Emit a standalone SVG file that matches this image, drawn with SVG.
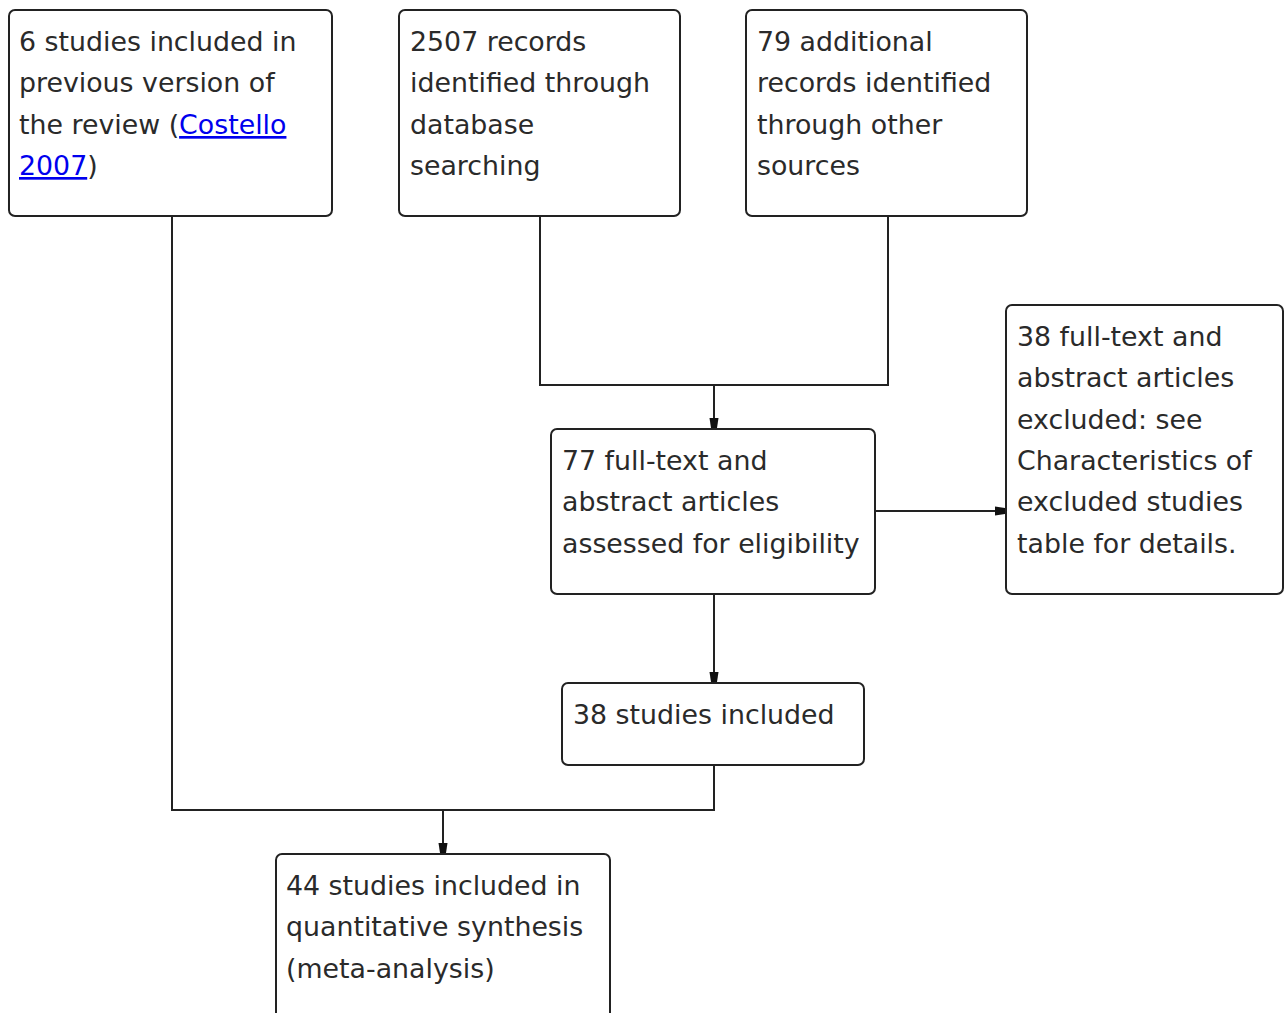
<svg xmlns="http://www.w3.org/2000/svg" width="1284" height="1013" viewBox="0 0 1284 1013">
<style>
.box{fill:#fff;stroke:#222;stroke-width:2}
.t{font-family:"DejaVu Sans",Verdana,sans-serif;font-size:26.8px;fill:#2a2a2a}
.lk{fill:#0000ee;text-decoration:underline}
.c{fill:none;stroke:#222;stroke-width:2}
</style>
<defs>
<marker id="ah" viewBox="0 0 10 10" refX="10" refY="5" markerWidth="10" markerHeight="10" markerUnits="userSpaceOnUse" orient="auto">
<path d="M0,0.5 L10,2 L10,8 L0,9.5 Z" fill="#111"/>
</marker>
</defs>
<rect width="1284" height="1013" fill="#fff"/>
<g id="connectors">
<polyline class="c" points="540,216 540,385 888,385 888,216"/>
<line class="c" x1="714" y1="385" x2="714" y2="428" marker-end="url(#ah)"/>
<line class="c" x1="875" y1="511" x2="1005" y2="511" marker-end="url(#ah)"/>
<line class="c" x1="714" y1="594" x2="714" y2="682" marker-end="url(#ah)"/>
<polyline class="c" points="172,216 172,810 714,810 714,765"/>
<line class="c" x1="443" y1="810" x2="443" y2="853" marker-end="url(#ah)"/>
</g>
<g id="n1">
<rect class="box" x="9" y="10" width="323" height="206" rx="6"/>
<text class="t" x="19" y="51">6 studies included in</text>
<text class="t" x="19" y="92">previous version of</text>
<text class="t" x="19" y="134">the review (<tspan class="lk">Costello</tspan></text>
<text class="t" x="19" y="175"><tspan class="lk">2007</tspan>)</text>
</g>
<g id="n2">
<rect class="box" x="399" y="10" width="281" height="206" rx="6"/>
<text class="t" x="410" y="51">2507 records</text>
<text class="t" x="410" y="92">identified through</text>
<text class="t" x="410" y="134">database</text>
<text class="t" x="410" y="175">searching</text>
</g>
<g id="n3">
<rect class="box" x="746" y="10" width="281" height="206" rx="6"/>
<text class="t" x="757" y="51">79 additional</text>
<text class="t" x="757" y="92">records identified</text>
<text class="t" x="757" y="134">through other</text>
<text class="t" x="757" y="175">sources</text>
</g>
<g id="n4">
<rect class="box" x="1006" y="305" width="277" height="289" rx="6"/>
<text class="t" x="1017" y="346">38 full-text and</text>
<text class="t" x="1017" y="387">abstract articles</text>
<text class="t" x="1017" y="429">excluded: see</text>
<text class="t" x="1017" y="470">Characteristics of</text>
<text class="t" x="1017" y="511">excluded studies</text>
<text class="t" x="1017" y="553">table for details.</text>
</g>
<g id="n5">
<rect class="box" x="551" y="429" width="324" height="165" rx="6"/>
<text class="t" x="562" y="470">77 full-text and</text>
<text class="t" x="562" y="511">abstract articles</text>
<text class="t" x="562" y="553">assessed for eligibility</text>
</g>
<g id="n6">
<rect class="box" x="562" y="683" width="302" height="82" rx="6"/>
<text class="t" x="573" y="724">38 studies included</text>
</g>
<g id="n7">
<rect class="box" x="276" y="854" width="334" height="190" rx="6"/>
<text class="t" x="286" y="895">44 studies included in</text>
<text class="t" x="286" y="936">quantitative synthesis</text>
<text class="t" x="286" y="978">(meta-analysis)</text>
</g>
</svg>
